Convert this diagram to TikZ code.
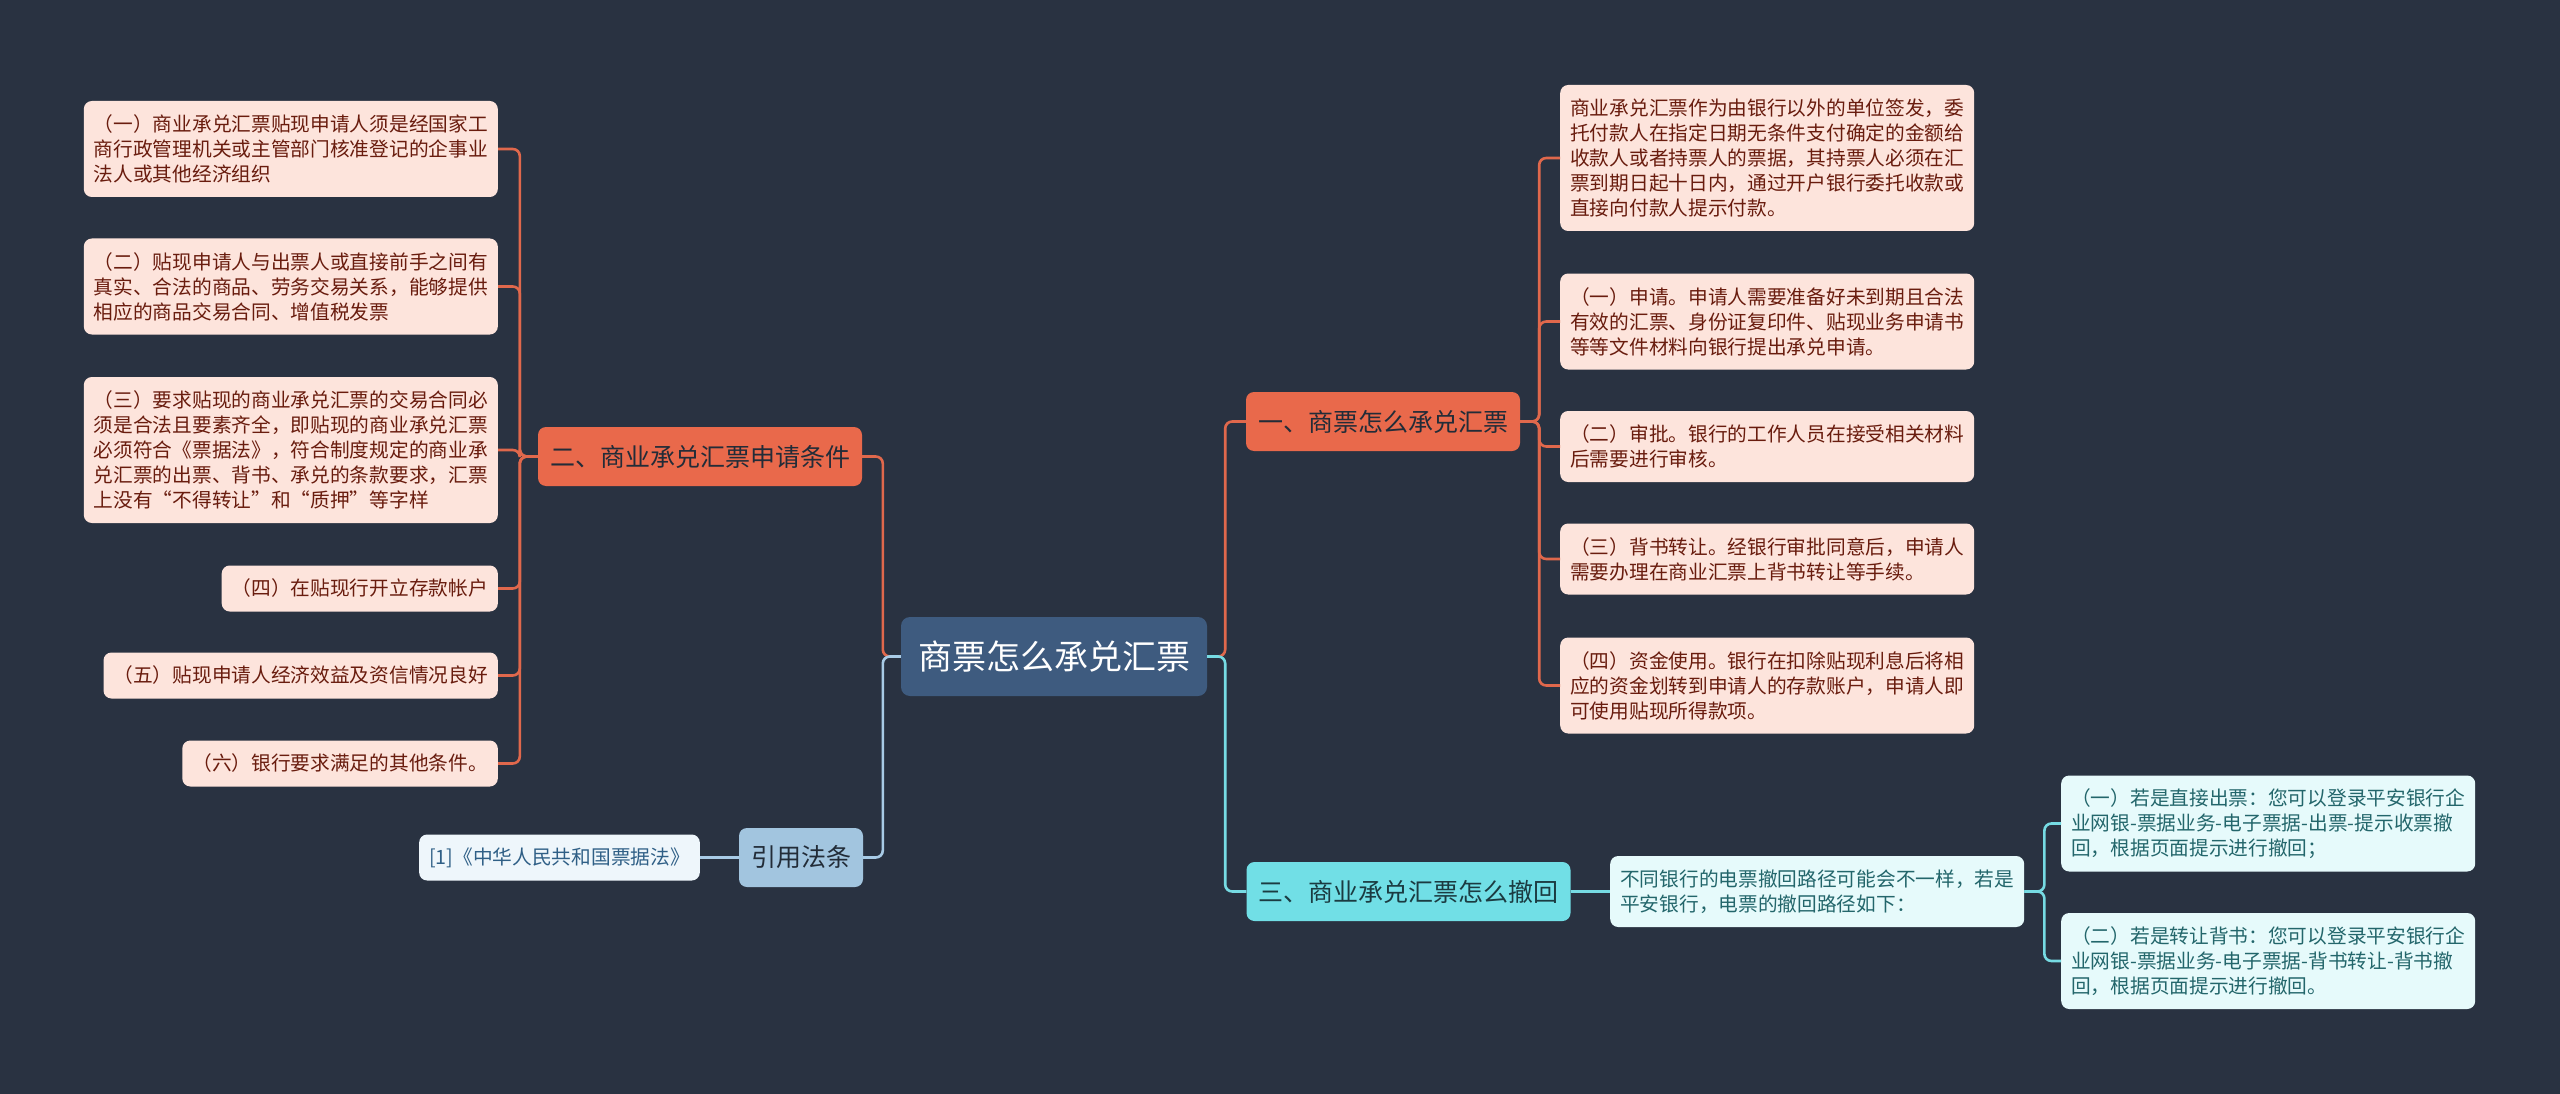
\documentclass[tikz,border=0pt]{standalone}
\usepackage{fontspec}
\setmainfont{Noto Sans CJK SC}
\definecolor{bgc}{RGB}{41,50,65}
\definecolor{rootc}{RGB}{62,91,127}
\definecolor{orc}{RGB}{233,105,75}
\definecolor{orl}{RGB}{224,104,76}
\definecolor{leafof}{RGB}{253,228,220}
\definecolor{leafot}{RGB}{105,28,14}
\definecolor{bluf}{RGB}{162,197,223}
\definecolor{blut}{RGB}{34,44,56}
\definecolor{blul}{RGB}{168,203,230}
\definecolor{refff}{RGB}{238,246,251}
\definecolor{refft}{RGB}{47,95,134}
\definecolor{cyf}{RGB}{113,223,230}
\definecolor{cyt}{RGB}{27,59,65}
\definecolor{cyl}{RGB}{118,219,227}
\definecolor{cylf}{RGB}{230,250,251}
\definecolor{cylt}{RGB}{35,102,107}
\begin{document}
\begin{tikzpicture}[x=1pt,y=-1pt,
  rootbox/.style={fill=rootc,text=white,rounded corners=9pt,inner xsep=17pt,inner ysep=2pt,minimum height=79pt,font=\fontsize{34}{40}\selectfont},
  lvl/.style={rounded corners=8pt,inner xsep=12pt,inner ysep=2pt,minimum height=59pt,font=\fontsize{25}{30}\selectfont},
  ofill/.style={fill=orc,text=blut},
  bfill/.style={fill=bluf,text=blut},
  cfill/.style={fill=cyf,text=cyt},
  leafbase/.style={rounded corners=8pt,inner xsep=10pt,inner ysep=2pt,align=left,font=\fontsize{19.7}{25}\selectfont},
  leafo/.style={leafbase,fill=leafof,text=leafot},
  leafb/.style={leafbase,fill=refff,text=refft},
  leafc/.style={leafbase,fill=cylf,text=cylt},
  nlines/.style={minimum height={25*#1+21}},
  conn/.style={line width=2.6pt,rounded corners=7pt},
  oline/.style={conn,draw=orl},
  bline/.style={conn,draw=blul},
  cline/.style={conn,draw=cyl}]
\fill[bgc] (0,0) rectangle (2560,1094);
\useasboundingbox (0,0) rectangle (2560,1094);

% root
\node[rootbox] (root) at (1054,656.5) {商票怎么承兑汇票};

% left branch
\node[lvl,ofill] (b2) at (700,456.5) {二、商业承兑汇票申请条件};
\node[leafo,anchor=east,nlines=3] (L1) at (498,149) {（一）商业承兑汇票贴现申请人须是经国家工\\商行政管理机关或主管部门核准登记的企事业\\法人或其他经济组织};
\node[leafo,anchor=east,nlines=3] (L2) at (498,286.5) {（二）贴现申请人与出票人或直接前手之间有\\真实、合法的商品、劳务交易关系，能够提供\\相应的商品交易合同、增值税发票};
\node[leafo,anchor=east,nlines=5] (L3) at (498,450) {（三）要求贴现的商业承兑汇票的交易合同必\\须是合法且要素齐全，即贴现的商业承兑汇票\\必须符合《票据法》，符合制度规定的商业承\\兑汇票的出票、背书、承兑的条款要求，汇票\\上没有“不得转让”和“质押”等字样};
\node[leafo,anchor=east,nlines=1] (L4) at (498,588.5) {（四）在贴现行开立存款帐户};
\node[leafo,anchor=east,nlines=1] (L5) at (498,675.5) {（五）贴现申请人经济效益及资信情况良好};
\node[leafo,anchor=east,nlines=1] (L6) at (498,763.5) {（六）银行要求满足的其他条件。};

\node[lvl,bfill] (ref) at (801,857.5) {引用法条};
\node[leafb,anchor=east,nlines=1] (ref1) at (700,857.5) {[1]《中华人民共和国票据法》};

% right branch 1
\node[lvl,ofill] (b1) at (1383,421.5) {一、商票怎么承兑汇票};
\node[leafo,anchor=west,nlines=5] (R0) at (1560,158) {商业承兑汇票作为由银行以外的单位签发，委\\托付款人在指定日期无条件支付确定的金额给\\收款人或者持票人的票据，其持票人必须在汇\\票到期日起十日内，通过开户银行委托收款或\\直接向付款人提示付款。};
\node[leafo,anchor=west,nlines=3] (R1) at (1560,321.5) {（一）申请。申请人需要准备好未到期且合法\\有效的汇票、身份证复印件、贴现业务申请书\\等等文件材料向银行提出承兑申请。};
\node[leafo,anchor=west,nlines=2] (R2) at (1560,446.5) {（二）审批。银行的工作人员在接受相关材料\\后需要进行审核。};
\node[leafo,anchor=west,nlines=2] (R3) at (1560,559) {（三）背书转让。经银行审批同意后，申请人\\需要办理在商业汇票上背书转让等手续。};
\node[leafo,anchor=west,nlines=3] (R4) at (1560,685.5) {（四）资金使用。银行在扣除贴现利息后将相\\应的资金划转到申请人的存款账户，申请人即\\可使用贴现所得款项。};

% right branch 3
\node[lvl,cfill] (b3) at (1408.5,891.5) {三、商业承兑汇票怎么撤回};
\node[leafc,anchor=west,nlines=2] (C0) at (1610,891.5) {不同银行的电票撤回路径可能会不一样，若是\\平安银行，电票的撤回路径如下：};
\node[leafc,anchor=west,nlines=3] (CR1) at (2061,823.5) {（一）若是直接出票：您可以登录平安银行企\\业网银-票据业务-电子票据-出票-提示收票撤\\回，根据页面提示进行撤回；};
\node[leafc,anchor=west,nlines=3] (CR2) at (2061,961) {（二）若是转让背书：您可以登录平安银行企\\业网银-票据业务-电子票据-背书转让-背书撤\\回，根据页面提示进行撤回。};

% connectors
\draw[oline] (root.west) -- ++(-18,0) |- (b2.east);
\draw[bline] (root.west) -- ++(-18,0) |- (ref.east);
\draw[oline] (root.east) -- ++(18,0) |- (b1.west);
\draw[cline] (root.east) -- ++(18,0) |- (b3.west);

\foreach \n in {L1,L2,L3,L4,L5,L6}
  \draw[oline] (b2.west) -- ++(-18,0) |- (\n.east);
\draw[bline] (ref.west) -- (ref1.east);
\foreach \n in {R0,R1,R2,R3,R4}
  \draw[oline] (b1.east) -- ++(19,0) |- (\n.west);
\draw[cline] (b3.east) -- (C0.west);
\foreach \n in {CR1,CR2}
  \draw[cline] (C0.east) -- ++(20,0) |- (\n.west);
\end{tikzpicture}
\end{document}
